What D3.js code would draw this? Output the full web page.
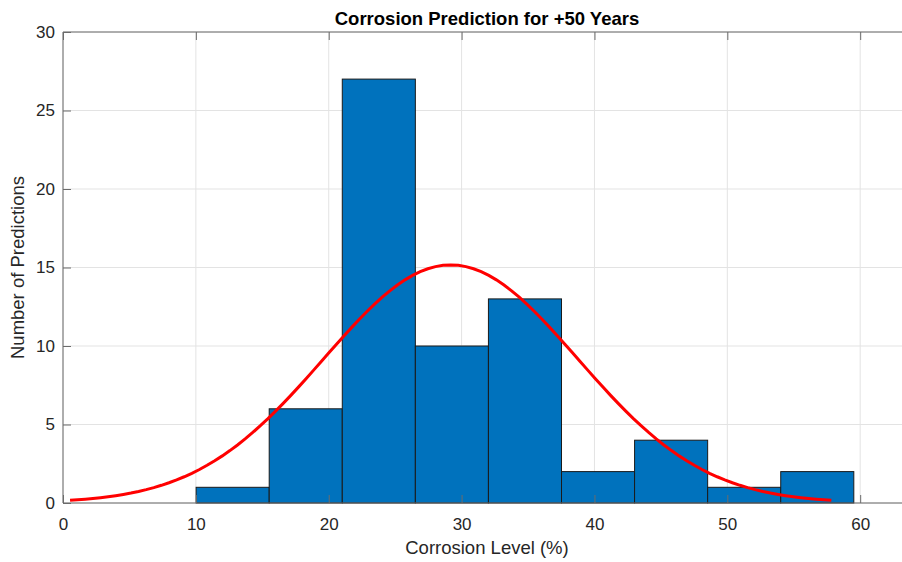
<!DOCTYPE html>
<html>
<head>
<meta charset="utf-8">
<script src="https://cdn.jsdelivr.net/npm/d3@7"></script>
<style>
  html, body { margin: 0; padding: 0; background: #fff; }
  svg { display: block; font-family: "Liberation Sans", Arial, sans-serif; }
</style>
</head>
<body>
<svg id="chart" width="902" height="562"></svg>
<script>
// Histogram bins (corrosion level, %) and their counts
const binEdges = [10.02, 15.52, 21.02, 26.52, 32.02, 37.52, 43.02, 48.52, 54.02, 59.52];
const binCounts = [1, 6, 27, 10, 13, 2, 4, 1, 2];

// Normal fit of the predictions
const fitMu = 29.18;
const fitSigma = 9.55;

// Axis ticks
const xTicks = [0, 10, 20, 30, 40, 50, 60];
const yTicks = [0, 5, 10, 15, 20, 25, 30];

const svg = d3.select("#chart");
const margin = { left: 63, top: 32 };
const plotW = 849, plotH = 471;
const xMax = 63.9;

const x = d3.scaleLinear().domain([0, xMax]).range([margin.left, margin.left + plotW]);
const y = d3.scaleLinear().domain([0, 30]).range([margin.top + plotH, margin.top]);

const axisColor = "#6b6b6b";
const textColor = "#262626";

// Grid
const grid = svg.append("g");
grid.selectAll(".gx").data(xTicks).join("line")
  .attr("x1", d => x(d)).attr("x2", d => x(d))
  .attr("y1", y(0)).attr("y2", y(30))
  .attr("stroke", "#e3e3e3").attr("stroke-width", 1);
grid.selectAll(".gy").data(yTicks).join("line")
  .attr("x1", x(0)).attr("x2", x(xMax))
  .attr("y1", d => y(d)).attr("y2", d => y(d))
  .attr("stroke", "#e3e3e3").attr("stroke-width", 1);

// Bars
const bins = binCounts.map((c, i) => ({ x0: binEdges[i], x1: binEdges[i + 1], count: c }));
svg.append("g").selectAll("rect").data(bins).join("rect")
  .attr("x", d => x(d.x0))
  .attr("y", d => y(d.count))
  .attr("width", d => x(d.x1) - x(d.x0))
  .attr("height", d => y(0) - y(d.count))
  .attr("fill", "#0072BD")
  .attr("stroke", "#1a1a1a")
  .attr("stroke-width", 1);

// Fitted normal density, scaled to counts (mu ± 3 sigma)
const nTotal = d3.sum(binCounts);
const binWidth = binEdges[1] - binEdges[0];
const scaleK = nTotal * binWidth / (fitSigma * Math.sqrt(2 * Math.PI));
const xs = d3.range(0, 101).map(i => fitMu - 3 * fitSigma + i * (6 * fitSigma) / 100);
const curve = xs.map(v => [v, scaleK * Math.exp(-0.5 * ((v - fitMu) / fitSigma) ** 2)]);
svg.append("path")
  .datum(curve)
  .attr("fill", "none")
  .attr("stroke", "#ff0000")
  .attr("stroke-width", 3)
  .attr("d", d3.line().x(d => x(d[0])).y(d => y(d[1])));

// Axes (box with inward ticks)
const tickLen = 8;
const axisG = svg.append("g");
axisG.append("line").attr("x1", x(0)).attr("x2", x(xMax)).attr("y1", y(0)).attr("y2", y(0)).attr("stroke", axisColor);
axisG.append("line").attr("x1", x(0)).attr("x2", x(xMax)).attr("y1", y(30)).attr("y2", y(30)).attr("stroke", axisColor);
axisG.append("line").attr("x1", x(0)).attr("x2", x(0)).attr("y1", y(0)).attr("y2", y(30)).attr("stroke", axisColor);

const bottomAxis = d3.axisBottom(x).tickValues(xTicks).tickSizeInner(-tickLen).tickSizeOuter(0).tickPadding(13);
const gB = svg.append("g").attr("transform", `translate(0,${y(0)})`).call(bottomAxis);
const topAxis = d3.axisTop(x).tickValues(xTicks).tickSizeInner(-tickLen).tickSizeOuter(0).tickFormat("");
const gT = svg.append("g").attr("transform", `translate(0,${y(30)})`).call(topAxis);
const leftAxis = d3.axisLeft(y).tickValues(yTicks).tickSizeInner(-tickLen).tickSizeOuter(0).tickPadding(8);
const gL = svg.append("g").attr("transform", `translate(${x(0)},0)`).call(leftAxis);

[gB, gT, gL].forEach(g => {
  g.select(".domain").remove();
  g.selectAll(".tick line").attr("stroke", axisColor);
  g.selectAll(".tick text").attr("fill", textColor).style("font-size", "17px")
    .style("font-family", "'Liberation Sans', Arial, sans-serif");
});
gB.selectAll(".tick text").attr("dy", "0.8em");

// Labels
svg.append("text")
  .attr("x", 487).attr("y", 25)
  .attr("text-anchor", "middle")
  .attr("fill", "#000")
  .style("font-size", "18.5px").style("font-weight", "bold")
  .text("Corrosion Prediction for +50 Years");

svg.append("text")
  .attr("x", 487).attr("y", 554)
  .attr("text-anchor", "middle")
  .attr("fill", textColor)
  .style("font-size", "18.5px")
  .text("Corrosion Level (%)");

svg.append("text")
  .attr("transform", `translate(24,${(y(0) + y(30)) / 2}) rotate(-90)`)
  .attr("text-anchor", "middle")
  .attr("fill", textColor)
  .style("font-size", "18.5px")
  .text("Number of Predictions");
</script>
</body>
</html>
